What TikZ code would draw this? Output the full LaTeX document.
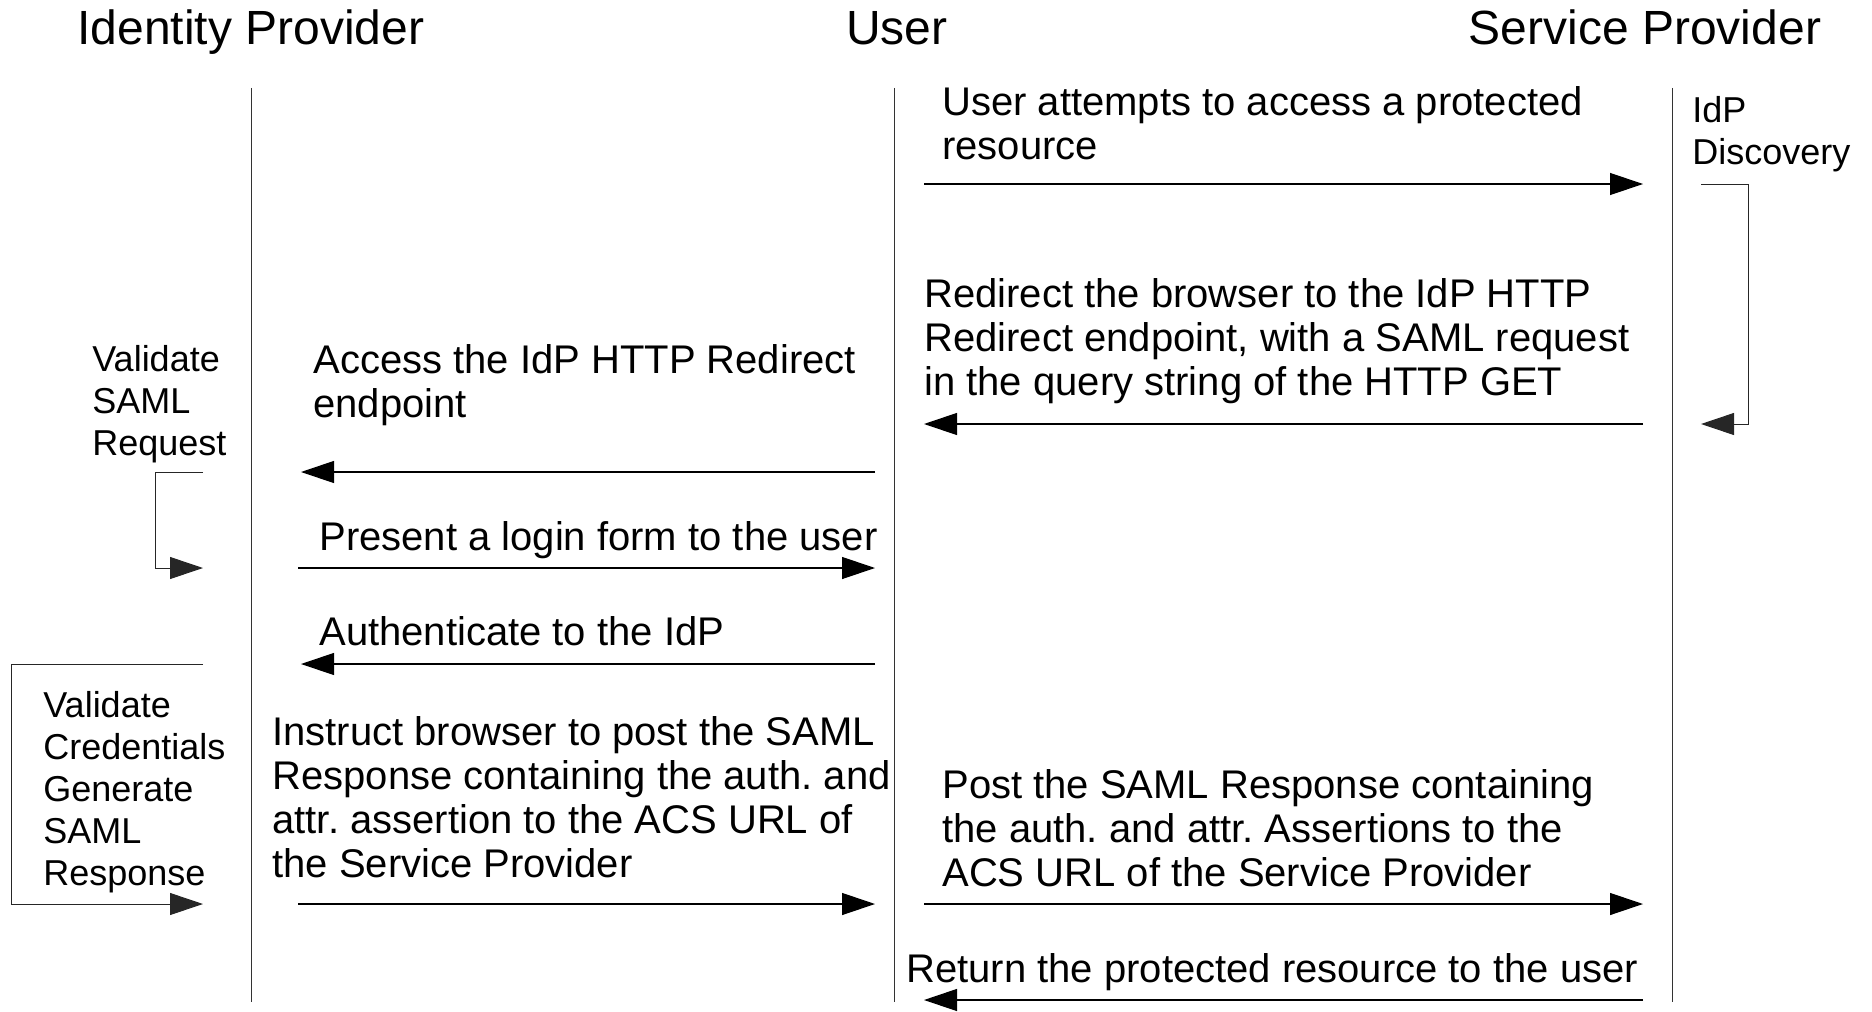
\documentclass[tikz,border=0pt]{standalone}
\usepackage{fontspec}
\setmainfont{Liberation Sans}
\usetikzlibrary{arrows.meta}
\frenchspacing
\tikzset{
  title/.style={anchor=base, inner sep=0pt, font=\fontsize{24pt}{28pt}\selectfont},
  msg/.style={anchor=base west, inner sep=0pt, align=left, font=\fontsize{20pt}{22pt}\selectfont},
  note/.style={anchor=base west, inner sep=0pt, align=left, font=\fontsize{18pt}{21pt}\selectfont},
  life/.style={line width=0.5pt, black!80},
  arr/.style={line width=0.6pt, -{Triangle[length=16.5pt, width=11pt]}},
  loop/.style={line width=0.5pt, black!85, -{Triangle[length=16.5pt, width=11pt]}},
}
\begin{document}
\frenchspacing
\begin{tikzpicture}[x=0.5pt, y=-0.5pt]
\useasboundingbox (0,0) rectangle (1872,1011);
% titles
\node[title] (tidp) at (251,45) {Identity Provider};
\node[title] (tusr) at (897,45) {User};
\node[title] (tsp)  at (1645,45) {Service Provider};
% lifelines
\coordinate (idpT) at (251,88);  \coordinate (idpB) at (251,1002);
\coordinate (usrT) at (894,88);  \coordinate (usrB) at (894,1002);
\coordinate (spT)  at (1672,88); \coordinate (spB)  at (1672,1002);
\draw[life] (idpT) -- (idpB);
\draw[life] (usrT) -- (usrB);
\draw[life] (spT) -- (spB);
% message end points
\coordinate (uR1) at (924,184);  \coordinate (sL1) at (1643,184);
\coordinate (uR2) at (924,424);  \coordinate (sL2) at (1643,424);
\coordinate (uL3) at (875,472);  \coordinate (iR3) at (301,472);
\coordinate (iR4) at (298,568);  \coordinate (uL4) at (875,568);
\coordinate (uL5) at (875,664);  \coordinate (iR5) at (301,664);
\coordinate (iR6) at (298,904);  \coordinate (uL6) at (875,904);
\coordinate (uR7) at (924,904);  \coordinate (sL7) at (1643,904);
\coordinate (sL8) at (1643,1000);\coordinate (uR8) at (924,1000);
% self loops
\coordinate (spA) at (1701,184); \coordinate (spB2) at (1701,424);
\coordinate (idA) at (203,472);  \coordinate (idB) at (203,568);
\coordinate (idC) at (203,664);  \coordinate (idD) at (203,904);
% texts (anchor = baseline of the last line)
\node[msg] (m1) at (942,159) {User attempts to access a protected\\resource};
\node[note] (n1) at (1692,164) {IdP\\Discovery};
\node[msg] (m2) at (924,395) {Redirect the browser to the IdP HTTP\\Redirect endpoint, with a SAML request\\in the query string of the HTTP GET};
\node[note] (n2) at (92,455) {Validate\\SAML\\Request};
\node[msg] (m3) at (313,417) {Access the IdP HTTP Redirect\\endpoint};
\node[msg] (m4) at (319,550) {Present a login form to the user};
\node[msg] (m5) at (319,645) {Authenticate to the IdP};
\node[note] (n3) at (43,885) {Validate\\Credentials\\Generate\\SAML\\Response};
\node[msg] (m6) at (272,877) {Instruct browser to post the SAML\\Response containing the auth. and\\attr. assertion to the ACS URL of\\the Service Provider};
\node[msg] (m7) at (942,886) {Post the SAML Response containing\\the auth. and attr. Assertions to the\\ACS URL of the Service Provider};
\node[msg] (m8) at (906,982) {Return the protected resource to the user};
% arrows
\draw[arr] (uR1) -- (sL1);
\draw[loop] (spA) -- (1748,184) -- (1748,424) -- (spB2);
\draw[arr] (sL2) -- (uR2);
\draw[arr] (uL3) -- (iR3);
\draw[loop] (idA) -- (155,472) -- (155,568) -- (idB);
\draw[arr] (iR4) -- (uL4);
\draw[arr] (uL5) -- (iR5);
\draw[loop] (idC) -- (11,664) -- (11,904) -- (idD);
\draw[arr] (iR6) -- (uL6);
\draw[arr] (uR7) -- (sL7);
\draw[arr] (sL8) -- (uR8);
\end{tikzpicture}
\end{document}
